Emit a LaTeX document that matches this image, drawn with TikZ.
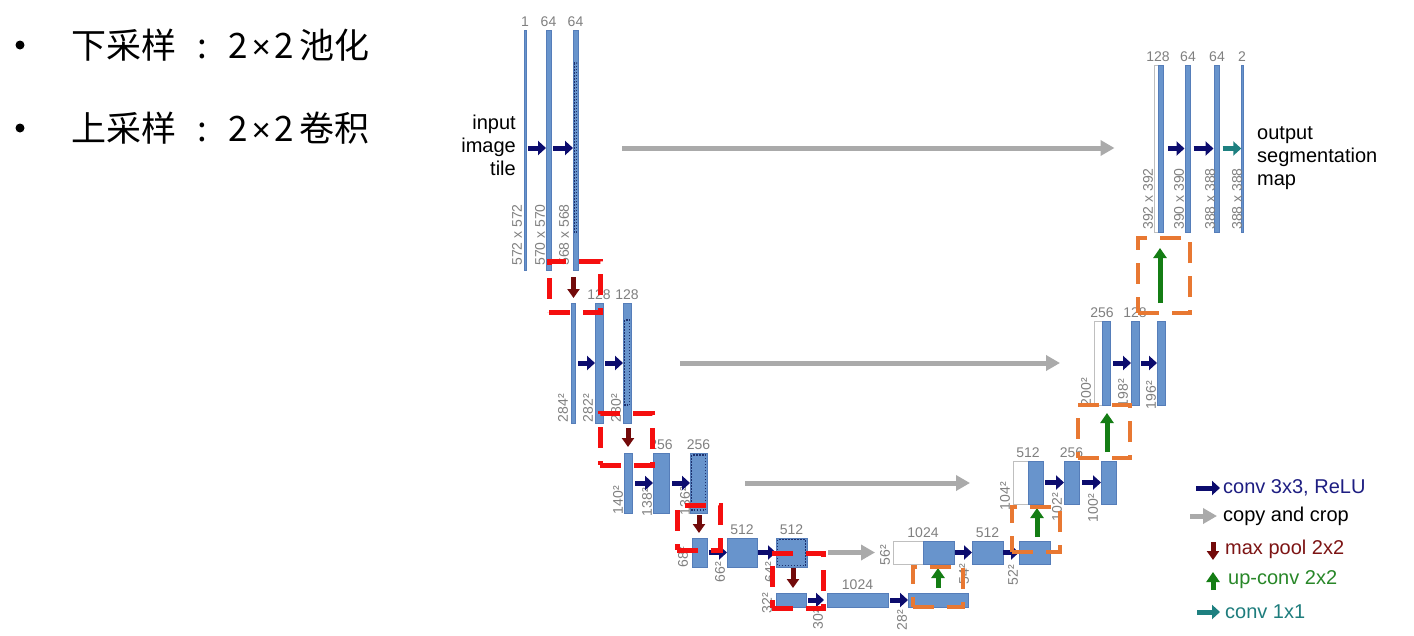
\documentclass[tikz,border=0pt]{standalone}
\usepackage{fontspec}
\setmainfont{Liberation Sans}
\newfontfamily\cjk{Noto Sans CJK SC}
\usetikzlibrary{arrows.meta,calc}
\definecolor{barblue}{RGB}{104,148,204}
\definecolor{barline}{RGB}{85,125,185}
\definecolor{dotblue}{RGB}{28,48,110}
\definecolor{navyar}{RGB}{12,12,110}
\definecolor{grayar}{RGB}{170,170,170}
\definecolor{poolred}{RGB}{115,10,10}
\definecolor{upgreen}{RGB}{20,125,20}
\definecolor{tealar}{RGB}{30,128,128}
\definecolor{boxred}{RGB}{245,15,15}
\definecolor{boxorange}{RGB}{232,120,50}
\definecolor{lblgray}{RGB}{128,128,128}
\definecolor{navytxt}{RGB}{30,30,130}
\definecolor{redtxt}{RGB}{125,20,20}
\definecolor{greentxt}{RGB}{40,135,40}
\definecolor{tealtxt}{RGB}{30,125,125}
\tikzset{
  bar/.style={draw=barline, line width=0.4pt, fill=barblue, inner sep=0pt, outer sep=0pt},
  wbar/.style={draw=black!25, line width=0.8pt, fill=white, inner sep=0pt, outer sep=0pt},
  chn/.style={text=lblgray, font=\fontsize{14}{14}\selectfont, inner sep=3pt, anchor=south},
  dimlbl/.style={text=lblgray, font=\fontsize{14}{14}\selectfont, rotate=90, inner sep=0pt},
  bigtxt/.style={font=\fontsize{20}{23}\selectfont, inner sep=0pt},
  legtxt/.style={font=\fontsize{20}{22}\selectfont, inner sep=0pt, anchor=west},
  cjktxt/.style={font=\cjk\fontsize{35}{35}\selectfont, inner sep=0pt, anchor=west},
  bulletdot/.style={circle, fill=black, minimum size=9pt, inner sep=0pt},
  dotin/.style={draw=dotblue, dash pattern=on 1.5pt off 1.5pt, line width=1.5pt},
  convar/.style={draw=navyar, line width=5pt, -{Triangle[length=8pt,width=14pt]}},
  copyar/.style={draw=grayar, line width=5pt, -{Triangle[length=14pt,width=15pt]}},
  poolar/.style={draw=poolred, line width=5pt, -{Triangle[length=9pt,width=12pt]}},
  upar/.style={draw=upgreen, line width=5pt, -{Triangle[length=10pt,width=13pt]}},
  onear/.style={draw=tealar, line width=5pt, -{Triangle[length=8pt,width=14pt]}},
  redbox/.style={draw=boxred, line width=5pt, dash pattern=on 21pt off 13pt, inner sep=0pt},
  orbox/.style={draw=boxorange, line width=4.5pt, dash pattern=on 21pt off 13pt, inner sep=0pt}
}
\newcommand\mulsign{\hspace{4pt}{\rmfamily\fontsize{33}{33}\selectfont ×}\hspace{4pt}}
\begin{document}
\begin{tikzpicture}[x=1pt,y=-1pt]
\useasboundingbox (0,0) rectangle (1414,635);
\fill[white] (0,0) rectangle (1414,635);

% left text
\node[bulletdot] (bul1) at (20,45) {};
\node[bulletdot] (bul2) at (20,128) {};
\node[cjktxt] (t1) at (71,45) {下采样\makebox[52pt][c]{:}2\mulsign 2\hspace{5pt}池化};
\node[cjktxt] (t2) at (71,128) {上采样\makebox[52pt][c]{:}2\mulsign 2\hspace{5pt}卷积};

% ---------- level 1 left ----------
\node[bar, minimum width=1.5pt, minimum height=240pt] (b11) at (525,150) {};
\node[bar, minimum width=5pt, minimum height=240pt] (b12) at (548.5,150) {};
\node[bar, minimum width=5pt, minimum height=240pt] (b13) at (575.5,150) {};
\draw[dotin] ($(b13.north)+(-1.2,33)$) rectangle ($(b13.south)+(1.2,-38)$);
\node[chn] (c11) at (b11.north) {1};
\node[chn] (c12) at (b12.north) {64};
\node[chn] (c13) at (b13.north) {64};
\node[dimlbl] (d11) at (517,235) {572 x 572};
\node[dimlbl] (d12) at (540,235) {570 x 570};
\node[dimlbl] (d13) at (564,235) {568 x 568};
\node[bigtxt, align=right, anchor=east] (inp) at (516,145) {input\\image\\tile};
\draw[convar] ($(b11.east)+(2,-2)$) -- ($(b12.west)+(0,-2)$);
\draw[convar] ($(b12.east)+(2,-2)$) -- ($(b13.west)+(0,-2)$);

% ---------- level 2 left ----------
\node[bar, minimum width=4.5pt, minimum height=120pt] (b21) at (573,363) {};
\node[bar, minimum width=8pt, minimum height=120pt] (b22) at (599,363) {};
\node[bar, minimum width=8pt, minimum height=120pt] (b23) at (627,363) {};
\draw[dotin] ($(b23.north)+(-2.5,17)$) rectangle ($(b23.south)+(2.5,-18)$);
\node[chn] (c22) at (b22.north) {128};
\node[chn] (c23) at (b23.north) {128};
\node[dimlbl] (d21) at (563,408) {284²};
\node[dimlbl] (d22) at (588,408) {282²};
\node[dimlbl] (d23) at (616,408) {280²};
\draw[convar] ($(b21.east)+(3,0)$) -- (b22.west);
\draw[convar] ($(b22.east)+(2,0)$) -- (b23.west);

% ---------- level 3 left ----------
\node[bar, minimum width=8pt, minimum height=60pt] (b31) at (628,483) {};
\node[bar, minimum width=16pt, minimum height=60pt] (b32) at (661,483) {};
\node[bar, minimum width=17pt, minimum height=60pt] (b33) at (698.5,483) {};
\draw[dotin] ($(b33.north west)+(1.5,2)$) rectangle ($(b33.south east)+(-1.5,-3)$);
\node[chn] (c32) at (b32.north) {256};
\node[chn] (c33) at (b33.north) {256};
\node[dimlbl] (d31) at (618,500) {140²};
\node[dimlbl] (d32) at (647,502) {138²};
\node[dimlbl] (d33) at (685,501) {136²};
\draw[convar] ($(b31.east)+(3,0)$) -- (b32.west);
\draw[convar] ($(b32.east)+(3,0)$) -- (b33.west);

% ---------- level 4 left ----------
\node[bar, minimum width=15pt, minimum height=29pt] (b41) at (699.5,552.5) {};
\node[bar, minimum width=30pt, minimum height=29pt] (b42) at (742,552.5) {};
\node[bar, minimum width=31pt, minimum height=29pt] (b43) at (791.5,552.5) {};
\draw[dotin] ($(b43.north west)+(1.5,1.5)$) rectangle ($(b43.south east)+(-1.5,-1.5)$);
\node[chn] (c42) at (b42.north) {512};
\node[chn] (c43) at (b43.north) {512};
\node[dimlbl] (d41) at (683,557) {68²};
\node[dimlbl] (d42) at (720,572) {66²};
\node[dimlbl] (d43) at (770,572) {64²};
\draw[convar] ($(b41.east)+(2,0)$) -- (b42.west);
\draw[convar] ($(b42.east)+(1,0)$) -- (b43.west);

% ---------- level 5 ----------
\node[bar, minimum width=30pt, minimum height=14pt] (b51) at (791,600) {};
\node[bar, minimum width=61pt, minimum height=14pt] (b52) at (857.5,600) {};
\node[bar, minimum width=60pt, minimum height=14pt] (b53) at (938,600) {};
\node[chn] (c52) at (b52.north) {1024};
\node[dimlbl] (d51) at (767,603) {32²};
\node[dimlbl] (d52) at (818,619) {30²};
\node[dimlbl] (d53) at (902,620) {28²};
\draw[convar] ($(b51.east)+(2,0)$) -- ($(b52.west)+(-3,0)$);
\draw[convar] ($(b52.east)+(2,0)$) -- (b53.west);

% ---------- level 4 right ----------
\node[wbar, minimum width=30pt, minimum height=23pt] (b4rw) at (908,552.5) {};
\node[bar, minimum width=31pt, minimum height=23pt] (b4rb) at (938.5,552.5) {};
\node[bar, minimum width=31pt, minimum height=23pt] (b4r2) at (987.5,552.5) {};
\node[bar, minimum width=31pt, minimum height=23pt] (b4r3) at (1034.5,552.5) {};
\node[chn] (c4r1) at (b4rw.north east) {1024};
\node[chn] (c4r2) at (b4r2.north) {512};
\node[dimlbl] (d4r1) at (885,555) {56²};
\node[dimlbl] (d4r2) at (964,574) {54²};
\node[dimlbl] (d4r3) at (1013,575) {52²};
\draw[convar] ($(b4rb.east)+(1,0)$) -- (b4r2.west);
\draw[convar] (b4r2.east) -- (b4r3.west);

% ---------- level 3 right ----------
\node[wbar, minimum width=15pt, minimum height=43pt] (b3rw) at (1020.5,482.5) {};
\node[bar, minimum width=15pt, minimum height=43pt] (b3rb) at (1035.5,482.5) {};
\node[bar, minimum width=15pt, minimum height=43pt] (b3r2) at (1071.5,482.5) {};
\node[bar, minimum width=15pt, minimum height=43pt] (b3r3) at (1108.5,482.5) {};
\node[chn] (c3r1) at (b3rw.north east) {512};
\node[chn] (c3r2) at (b3r2.north) {256};
\node[dimlbl] (d3r1) at (1005,496) {104²};
\node[dimlbl] (d3r2) at (1057,507) {102²};
\node[dimlbl] (d3r3) at (1093,508) {100²};
\draw[convar] ($(b3rb.east)+(2,0)$) -- (b3r2.west);
\draw[convar] ($(b3r2.east)+(3,0)$) -- (b3r3.west);

% ---------- level 2 right ----------
\node[wbar, minimum width=8pt, minimum height=84pt] (b2rw) at (1098,363) {};
\node[bar, minimum width=8pt, minimum height=84pt] (b2rb) at (1106,363) {};
\node[bar, minimum width=8pt, minimum height=84pt] (b2r2) at (1135,363) {};
\node[bar, minimum width=8pt, minimum height=84pt] (b2r3) at (1161,363) {};
\node[chn] (c2r1) at (b2rw.north east) {256};
\node[chn] (c2r2) at (b2r2.north) {128};
\node[dimlbl] (d2r1) at (1086,392) {200²};
\node[dimlbl] (d2r2) at (1123,393) {198²};
\node[dimlbl] (d2r3) at (1151,395) {196²};
\draw[convar] ($(b2rb.east)+(3,0)$) -- (b2r2.west);
\draw[convar] ($(b2r2.east)+(2,0)$) -- (b2r3.west);

% ---------- level 1 right ----------
\node[wbar, minimum width=3.5pt, minimum height=167pt] (b1rw) at (1156.25,148.5) {};
\node[bar, minimum width=5pt, minimum height=167pt] (b1rb) at (1160.5,148.5) {};
\node[bar, minimum width=5pt, minimum height=167pt] (b1r2) at (1188,148.5) {};
\node[bar, minimum width=5pt, minimum height=167pt] (b1r3) at (1217,148.5) {};
\node[bar, minimum width=1.5pt, minimum height=167pt] (b1r4) at (1242,148.5) {};
\node[chn] (c1r1) at (b1rw.north east) {128};
\node[chn] (c1r2) at (b1r2.north) {64};
\node[chn] (c1r3) at (b1r3.north) {64};
\node[chn] (c1r4) at (b1r4.north) {2};
\node[dimlbl] (d1r1) at (1148,199) {392 x 392};
\node[dimlbl] (d1r2) at (1179,199) {390 x 390};
\node[dimlbl] (d1r3) at (1210,199) {388 x 388};
\node[dimlbl] (d1r4) at (1237,199) {388 x 388};
\node[bigtxt, align=left, anchor=west] (outp) at (1257,158) {output\\segmentation\\map};
\draw[convar] ($(b1rb.east)+(5,0)$) -- ($(b1r2.west)+(-1,0)$);
\draw[convar] ($(b1r2.east)+(3,0)$) -- ($(b1r3.west)+(-1,0)$);
\draw[onear] ($(b1r3.east)+(3,0)$) -- (b1r4.west);

% ---------- copy and crop ----------
\draw[copyar] ($(b13.east)+(44,-2)$) -- ($(b1rw.west |- b13.east)+(-40,-2)$);
\draw[copyar] ($(b23.east)+(49,0)$) -- ($(b2rw.west |- b23.east)+(-34,0)$);
\draw[copyar] ($(b33.east)+(38,0)$) -- ($(b3rw.west |- b33.east)+(-43,0)$);
\draw[copyar] ($(b43.east)+(21,0)$) -- ($(b4rw.west |- b43.east)+(-18,0)$);

% ---------- max pool ----------
\draw[poolar] ($(b13.south)+(-2,7)$) -- ($(b13.south |- b21.north)+(-2,-5)$);
\draw[poolar] ($(b23.south)+(1,5)$) -- ($(b23.south |- b31.north)+(1,-6)$);
\draw[poolar] ($(b33.south)+(0.5,2)$) -- ($(b33.south |- b41.north)+(0.5,-5)$);
\draw[poolar] ($(b43.south)+(1.5,1)$) -- ($(b43.south |- b51.north)+(1.5,-5)$);

% ---------- up-conv ----------
\draw[upar] ($(b53.north)+(0,-5)$) -- ($(b53.north |- b4rb.south)+(0,4)$);
\draw[upar] ($(b4r3.north)+(2.5,-4)$) -- ($(b4r3.north |- b3rb.south)+(2.5,4)$);
\draw[upar] ($(b3r3.north)+(-1.5,-9)$) -- ($(b3r3.north |- b2rb.south)+(-1.5,8)$);
\draw[upar] ($(b2r3.north)+(-1,-18)$) -- ($(b2r3.north |- b1rb.south)+(-1,16)$);

% ---------- dashed boxes ----------
\node[redbox, minimum width=51pt, minimum height=51pt] (rb1) at (574.5,286.5) {};
\node[redbox, minimum width=52pt, minimum height=52pt] (rb2) at (626,439) {};
\node[redbox, minimum width=43pt, minimum height=45pt] (rb3) at (698.5,527.5) {};
\node[redbox, minimum width=51pt, minimum height=55pt] (rb4) at (797.5,580.5) {};
\node[orbox, minimum width=50pt, minimum height=40pt] (ob1) at (938,587) {};
\node[orbox, minimum width=48pt, minimum height=45pt] (ob2) at (1036,529.5) {};
\node[orbox, minimum width=52pt, minimum height=53pt] (ob3) at (1104,431.5) {};
\node[orbox, minimum width=52pt, minimum height=75pt] (ob4) at (1164,275.5) {};

% ---------- legend ----------
\node[legtxt, text=navytxt] (lg1) at (1223,488) {conv 3x3, ReLU};
\node[legtxt, text=black] (lg2) at (1223,516) {copy and crop};
\node[legtxt, text=redtxt] (lg3) at (1225,549) {max pool 2x2};
\node[legtxt, text=greentxt] (lg4) at (1228,580) {up-conv 2x2};
\node[legtxt, text=tealtxt] (lg5) at (1225,612) {conv 1x1};
\draw[convar] ($(lg1.west)+(-27,0)$) -- ($(lg1.west)+(-3,0)$);
\draw[copyar] ($(lg2.west)+(-33,0)$) -- ($(lg2.west)+(-6,0)$);
\draw[poolar] ($(lg3.west)+(-12,-7)$) -- ($(lg3.west)+(-12,11)$);
\draw[upar] ($(lg4.west)+(-15,10)$) -- ($(lg4.west)+(-15,-8)$);
\draw[onear] ($(lg5.west)+(-28,0)$) -- ($(lg5.west)+(-5,0)$);
\end{tikzpicture}
\end{document}
